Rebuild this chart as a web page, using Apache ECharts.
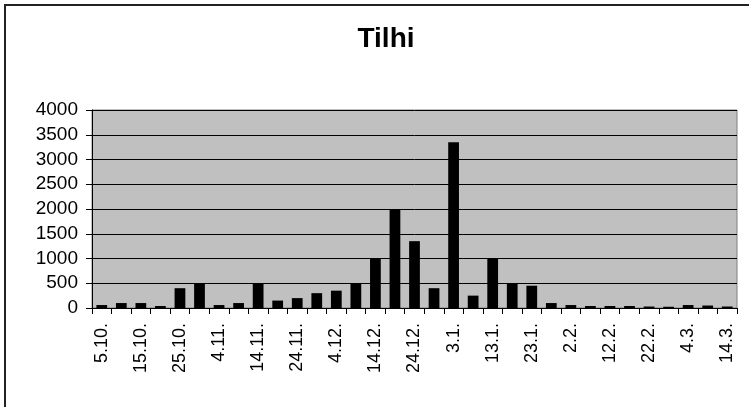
<!DOCTYPE html>
<html>
<head>
<meta charset="utf-8">
<script src="https://cdn.jsdelivr.net/npm/echarts@6/dist/echarts.min.js"></script>
<style>html,body{margin:0;padding:0;background:#fff}#c{width:749px;height:407px}</style>
</head>
<body>
<div id="c"></div>
<script>
var categories = ["5.10.","10.10.","15.10.","20.10.","25.10.","30.10.","4.11.","9.11.","14.11.","19.11.","24.11.","29.11.","4.12.","9.12.","14.12.","19.12.","24.12.","29.12.","3.1.","8.1.","13.1.","18.1.","23.1.","28.1.","2.2.","7.2.","12.2.","17.2.","22.2.","27.2.","4.3.","9.3.","14.3."];
var values = [60,100,100,40,400,500,60,100,500,150,200,300,350,500,1000,2000,1350,400,3350,250,1000,500,450,100,60,40,40,40,30,25,60,50,30];
var yTicks = [0,500,1000,1500,2000,2500,3000,3500,4000];
var title = "Tilhi";

var chart = echarts.init(document.getElementById('c'));
chart.setOption({
  animation: false,
  backgroundColor: '#fff',
  title: {
    text: title, left: 381, top: 20, textAlign: 'center',
    textStyle: {fontFamily: 'Liberation Sans', fontSize: 28, fontWeight: 'bold', color: '#000'}
  },
  graphic: [{
    type: 'rect', shape: {x: 5, y: 5, width: 800, height: 500},
    style: {fill: null, stroke: '#222', lineWidth: 2}, silent: true, z: 100
  }],
  grid: {left: 92, top: 110, right: 12, bottom: 99, show: true, backgroundColor: '#c0c0c0', borderColor: '#808080', borderWidth: 1},
  xAxis: {
    type: 'category', data: categories, boundaryGap: true,
    axisLine: {lineStyle: {color: '#000', width: 1}},
    axisTick: {show: true, alignWithLabel: false, interval: 0, length: 6, lineStyle: {color: '#000'}},
    axisLabel: {interval: 1, rotate: 90, margin: 15, fontFamily: 'Liberation Sans', fontSize: 18, color: '#000'}
  },
  yAxis: {
    type: 'value', min: yTicks[0], max: yTicks[yTicks.length-1], interval: 500,
    axisLine: {show: true, lineStyle: {color: '#000'}},
    axisTick: {show: true, length: 6, lineStyle: {color: '#000'}},
    splitLine: {show: true, lineStyle: {color: '#000', width: 1}},
    axisLabel: {margin: 14, fontFamily: 'Liberation Sans', fontSize: 19, color: '#000', formatter: function (v) { return String(v); }}
  },
  series: [{
    type: 'bar', data: values, barWidth: '55%',
    itemStyle: {color: '#000'}
  }]
});
</script>
</body>
</html>
